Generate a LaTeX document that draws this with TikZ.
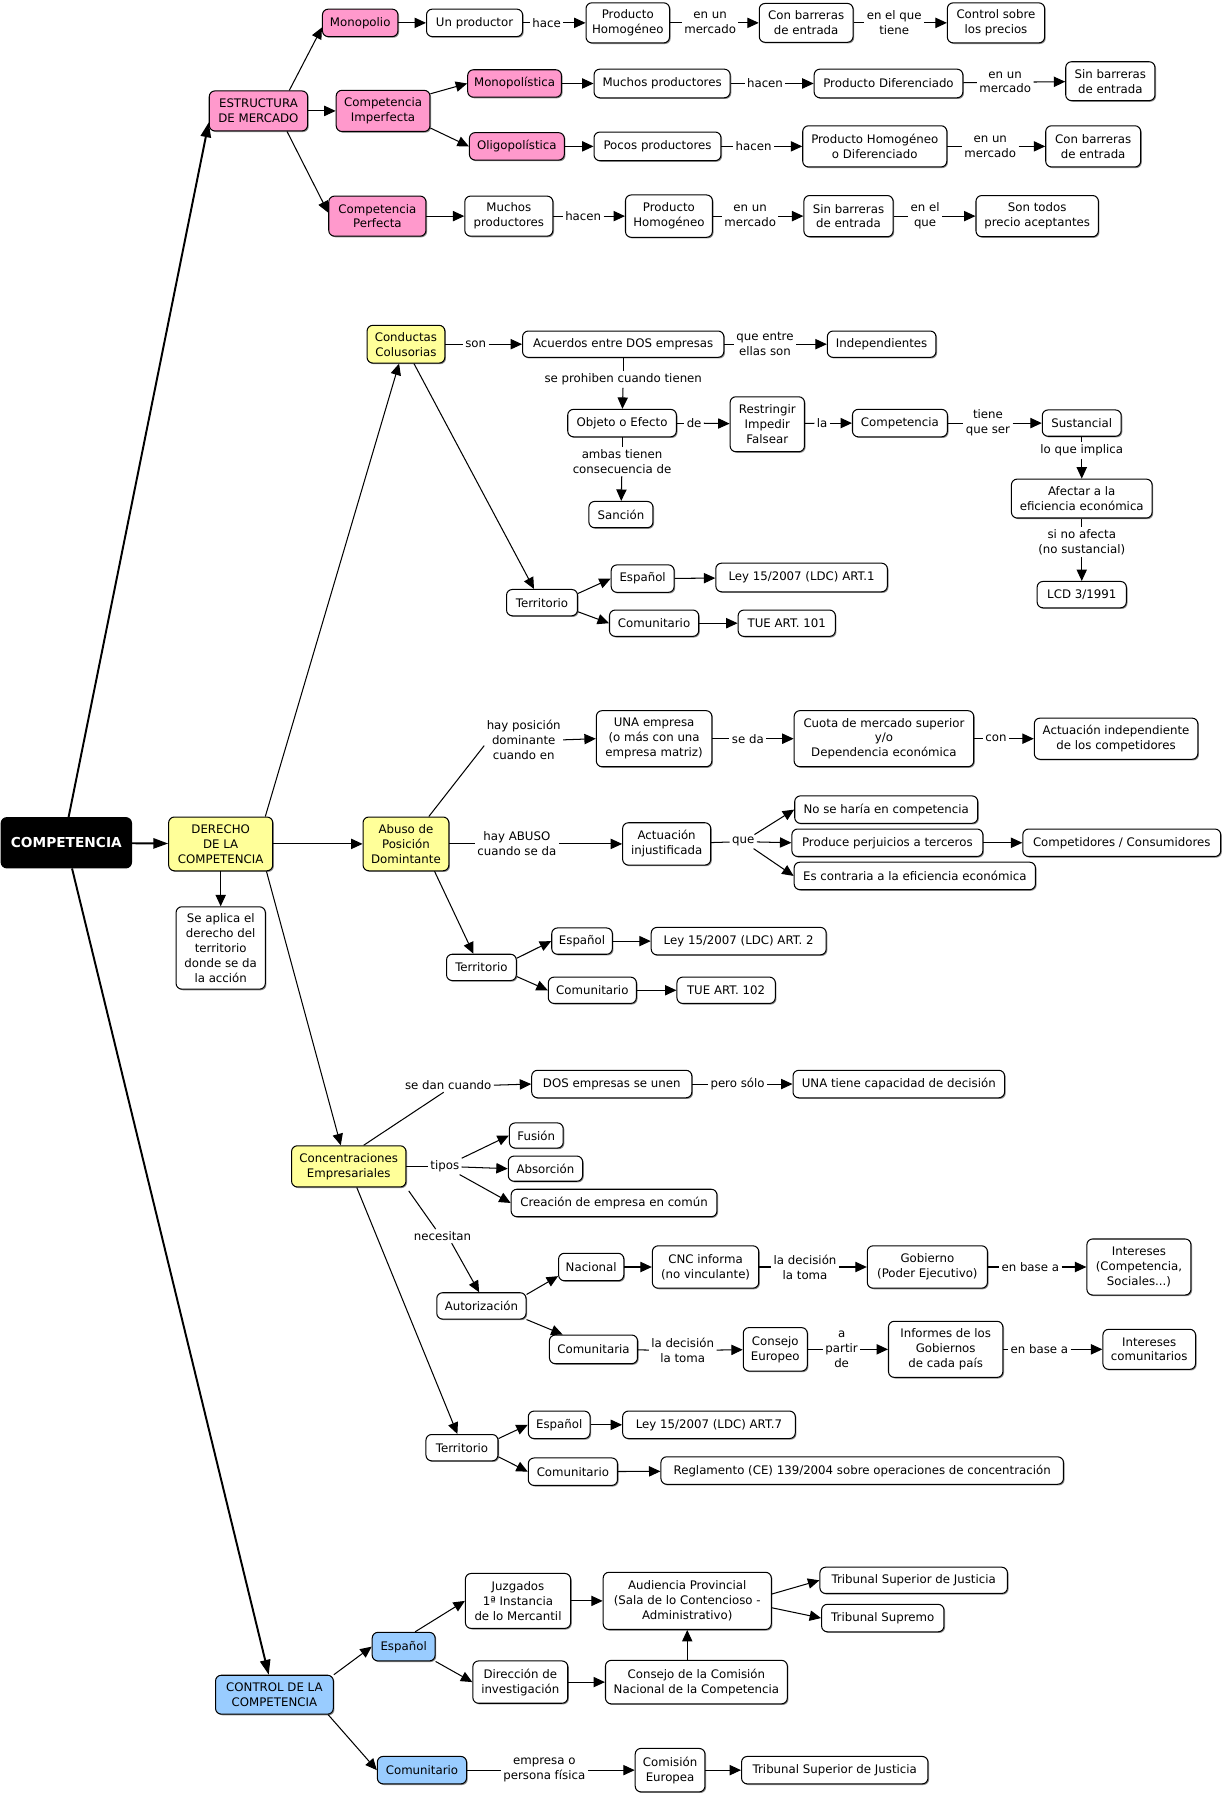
\documentclass[tikz,border=0pt]{standalone}
\usepackage{fontspec}
\setmainfont{DejaVu Sans}
\usetikzlibrary{arrows.meta,shadows}
\definecolor{pinkc}{RGB}{255,153,204}
\definecolor{yelc}{RGB}{255,255,153}
\definecolor{bluec}{RGB}{153,204,255}
\newcommand\fs{\fontsize{10.3}{13}\selectfont}
\begin{document}
\begin{tikzpicture}[x=1pt,y=-1pt,
 box/.style={draw, rounded corners=5pt, fill=white, align=center, inner sep=1pt, line width=0.9pt, font=\fs,
   general shadow={fill=black!45, shadow xshift=1pt, shadow yshift=-1pt}},
 pk/.style={box, fill=pinkc}, ye/.style={box, fill=yelc}, bl/.style={box, fill=bluec},
 lbl/.style={align=center, inner sep=2pt, font=\fs},
 ln/.style={line width=0.9pt},
 arr/.style={line width=0.9pt, -{Triangle[length=10pt,width=9pt]}},
 big/.style={line width=1.7pt, -{Triangle[length=13pt,width=9pt]}},
 sz/.style 2 args={minimum width=#1pt, minimum height=#2pt}]
\fill[white] (0,0) rectangle (1071,1568);
\useasboundingbox (0,0) rectangle (1071,1568);

% ---------------- ESTRUCTURA DE MERCADO
\node[pk,sz={86}{35}] (estr) at (226,97) {ESTRUCTURA\\DE MERCADO};
\node[pk,sz={66}{24}] (mono) at (315,20) {Monopolio};
\node[box,sz={84}{24}] (unprod) at (415,20) {Un productor};
\node[lbl] (lhace) at (478,20) {hace};
\node[box,sz={73}{35}] (prodhom1) at (549,20) {Producto\\Homogéneo};
\node[lbl] (lenun1) at (621,20) {en un\\mercado};
\node[box,sz={82}{34}] (conbarr1) at (705,20) {Con barreras\\de entrada};
\node[lbl] (lenelque1) at (782,20) {en el que\\tiene};
\node[box,sz={85}{35}] (controlp) at (871,20) {Control sobre\\los precios};

\node[pk,sz={82}{36}] (compimp) at (335,97) {Competencia\\Imperfecta};
\node[pk,sz={82}{24}] (monopol) at (450,73) {Monopolística};
\node[box,sz={119}{25}] (muchos1) at (579,73) {Muchos productores};
\node[lbl] (lhacen1) at (669,73) {hacen};
\node[box,sz={130}{25}] (proddif) at (777,73) {Producto Diferenciado};
\node[lbl] (lenun2) at (879,72) {en un\\mercado};
\node[box,sz={78}{34}] (sinbarr1) at (971,71) {Sin barreras\\de entrada};

\node[pk,sz={83}{24}] (oligop) at (452,128) {Oligopolística};
\node[box,sz={111}{25}] (pocos) at (575,128) {Pocos productores};
\node[lbl] (lhacen2) at (659,128) {hacen};
\node[box,sz={126}{36}] (prodhomdif) at (765,128) {Producto Homogéneo\\o Diferenciado};
\node[lbl] (lenun3) at (866,128) {en un\\mercado};
\node[box,sz={83}{36}] (conbarr2) at (956,128) {Con barreras\\de entrada};

\node[pk,sz={85}{35}] (compperf) at (330,189) {Competencia\\Perfecta};
\node[box,sz={77}{35}] (muchos2) at (445,189) {Muchos\\productores};
\node[lbl] (lhacen3) at (510,189) {hacen};
\node[box,sz={76}{37}] (prodhom2) at (585,189) {Producto\\Homogéneo};
\node[lbl] (lenun4) at (656,189) {en un\\mercado};
\node[box,sz={78}{36}] (sinbarr2) at (742,189) {Sin barreras\\de entrada};
\node[lbl] (lenelque2) at (809,189) {en el\\que};
\node[box,sz={107}{36}] (sontodos) at (907,189) {Son todos\\precio aceptantes};

% ---------------- CONDUCTAS COLUSORIAS
\node[ye,sz={68}{33}] (conductas) at (355,301) {Conductas\\Colusorias};
\node[lbl] (lson) at (416,301) {son};
\node[box,sz={176}{23}] (acuerdos) at (545,301) {Acuerdos entre DOS empresas};
\node[lbl] (lqueentre) at (669,301) {que entre\\ellas son};
\node[box,sz={95}{23}] (indep) at (771,301) {Independientes};
\node[lbl] (lseproh) at (545,332) {se prohiben cuando tienen};
\node[box,sz={95}{24}] (objeto) at (544,370) {Objeto o Efecto};
\node[lbl] (lde) at (607,370) {de};
\node[box,sz={65}{48}] (restr) at (671,371) {Restringir\\Impedir\\Falsear};
\node[lbl] (lla) at (719,370) {la};
\node[box,sz={83}{24}] (compet) at (787,370) {Competencia};
\node[lbl] (ltiene) at (864,370) {tiene\\que ser};
\node[box,sz={69}{23}] (sust) at (946,370) {Sustancial};
\node[lbl] (lloque) at (946,394) {lo que implica};
\node[box,sz={123}{34}] (afectar) at (946,436) {Afectar a la\\eficiencia económica};
\node[lbl] (lsino) at (946,474) {si no afecta\\(no sustancial)};
\node[box,sz={78}{23}] (lcd) at (946,520) {LCD 3/1991};
\node[lbl] (lambas) at (544,404) {ambas tienen\\consecuencia de};
\node[box,sz={56}{23}] (sancion) at (543,450) {Sanción};
\node[box,sz={62}{23}] (terr1) at (474,527) {Territorio};
\node[box,sz={55}{24}] (esp1) at (562,506) {Español};
\node[box,sz={150}{25}] (ley1) at (701,505) {Ley 15/2007 (LDC) ART.1};
\node[box,sz={78}{23}] (comu1) at (572,545) {Comunitario};
\node[box,sz={85}{23}] (tue101) at (688,545) {TUE ART. 101};

% ---------------- CENTRE
\node[draw, rounded corners=5pt, fill=black, text=white, line width=0.9pt, sz={114}{44},
      font=\bfseries\fontsize{12}{14}\selectfont] (comp) at (58,737) {COMPETENCIA};
\node[ye,sz={91}{47}] (derecho) at (193,738) {DERECHO\\DE LA\\COMPETENCIA};
\node[box,sz={78}{72}] (sapl) at (193,829) {Se aplica el\\derecho del\\territorio\\donde se da\\la acción};

% ---------------- ABUSO
\node[ye,sz={75}{47}] (abuso) at (355,738) {Abuso de\\Posición\\Domintante};
\node[lbl] (lhaypos) at (458,647) {hay posición\\dominante\\cuando en};
\node[box,sz={101}{49}] (unaemp) at (572,646) {UNA empresa\\(o más con una\\empresa matriz)};
\node[lbl] (lseda) at (654,646) {se da};
\node[box,sz={157}{49}] (cuota) at (773,646) {Cuota de mercado superior\\y/o\\Dependencia económica};
\node[lbl] (lcon) at (871,646) {con};
\node[box,sz={143}{36}] (actind) at (976,646) {Actuación independiente\\de los competidores};
\node[lbl] (lhayab) at (452,738) {hay ABUSO\\cuando se da};
\node[box,sz={77}{37}] (actinj) at (583,738) {Actuación\\injustificada};
\node[lbl] (lque) at (650,736) {que};
\node[box,sz={160}{24}] (nosehar) at (775,708) {No se haría en competencia};
\node[box,sz={167}{24}] (produce) at (776,737) {Produce perjuicios a terceros};
\node[box,sz={173}{24}] (compcons) at (981,737) {Competidores / Consumidores};
\node[box,sz={211}{24}] (escontr) at (800,766) {Es contraria a la eficiencia económica};
\node[box,sz={61}{23}] (terr2) at (421,846) {Territorio};
\node[box,sz={53}{23}] (esp2) at (509,823) {Español};
\node[box,sz={153}{24}] (ley2) at (646,823) {Ley 15/2007 (LDC) ART. 2};
\node[box,sz={77}{23}] (comu2) at (518,866) {Comunitario};
\node[box,sz={86}{23}] (tue102) at (635,866) {TUE ART. 102};

% ---------------- CONCENTRACIONES
\node[ye,sz={100}{36}] (conc) at (305,1020) {Concentraciones\\Empresariales};
\node[lbl] (lsedan) at (392,949) {se dan cuando};
\node[box,sz={140}{24}] (dosemp) at (535,948) {DOS empresas se unen};
\node[lbl] (lpero) at (645,948) {pero sólo};
\node[box,sz={185}{24}] (unatiene) at (786,948) {UNA tiene capacidad de decisión};
\node[lbl] (ltipos) at (389,1020) {tipos};
\node[box,sz={47}{22}] (fusion) at (469,993) {Fusión};
\node[box,sz={65}{22}] (absorcion) at (477,1022) {Absorción};
\node[box,sz={180}{24}] (creacion) at (537,1052) {Creación de empresa en común};
\node[lbl] (lnec) at (387,1081) {necesitan};
\node[box,sz={78}{23}] (autoriz) at (421,1142) {Autorización};
\node[box,sz={57}{24}] (nacional) at (517,1108) {Nacional};
\node[box,sz={93}{37}] (cnc) at (617,1108) {CNC informa\\(no vinculante)};
\node[lbl] (lladec1) at (704,1108) {la decisión\\la toma};
\node[box,sz={105}{37}] (gobierno) at (811,1108) {Gobierno\\(Poder Ejecutivo)};
\node[lbl] (lenbase1) at (901,1108) {en base a};
\node[box,sz={91}{49}] (intereses) at (996,1108) {Intereses\\(Competencia,\\Sociales...)};
\node[box,sz={77}{25}] (comunitaria) at (519,1180) {Comunitaria};
\node[lbl] (lladec2) at (597,1181) {la decisión\\la toma};
\node[box,sz={56}{38}] (consejo) at (678,1180) {Consejo\\Europeo};
\node[lbl] (lapartir) at (736,1180) {a\\partir\\de};
\node[box,sz={100}{49}] (informes) at (827,1180) {Informes de los\\Gobiernos\\de cada país};
\node[lbl] (lenbase2) at (909,1180) {en base a};
\node[box,sz={81}{35}] (intcom) at (1005,1180) {Intereses\\comunitarios};
\node[box,sz={63}{23}] (terr3) at (404,1266) {Territorio};
\node[box,sz={54}{24}] (esp3) at (489,1246) {Español};
\node[box,sz={151}{24}] (ley7) at (620,1246) {Ley 15/2007 (LDC) ART.7};
\node[box,sz={78}{24}] (comu3) at (501,1287) {Comunitario};
\node[box,sz={352}{24}] (regl) at (754,1286) {Reglamento (CE) 139/2004 sobre operaciones de concentración};

% ---------------- CONTROL
\node[bl,sz={103}{34}] (controlc) at (240,1482) {CONTROL DE LA\\COMPETENCIA};
\node[bl,sz={55}{25}] (espc) at (353,1440) {Español};
\node[bl,sz={78}{24}] (comc) at (369,1548) {Comunitario};
\node[box,sz={92}{48}] (juzg) at (453,1400) {Juzgados\\1ª Instancia\\de lo Mercantil};
\node[box,sz={147}{50}] (aud) at (601,1400) {Audiencia Provincial\\(Sala de lo Contencioso -\\Administrativo)};
\node[box,sz={164}{23}] (tsj1) at (799,1382) {Tribunal Superior de Justicia};
\node[box,sz={107}{24}] (ts) at (772,1415) {Tribunal Supremo};
\node[box,sz={83}{37}] (direc) at (455,1471) {Dirección de\\investigación};
\node[box,sz={159}{38}] (consejoc) at (609,1471) {Consejo de la Comisión\\Nacional de la Competencia};
\node[lbl] (lempresa) at (476,1548) {empresa o\\persona física};
\node[box,sz={61}{38}] (comeur) at (586,1548) {Comisión\\Europea};
\node[box,sz={163}{24}] (tsj2) at (730,1548) {Tribunal Superior de Justicia};

% ================= CONNECTORS
% main
\draw[big] ([xshift=2pt]comp.north) -- ([yshift=-10pt]estr.west);
\draw[big] (comp) -- (derecho);
\draw[big] ([xshift=5pt]comp.south) -- ([xshift=-5pt]controlc.north);
% estructura
\draw[arr] ([xshift=27pt]estr.north) -- ([yshift=-4pt]mono.west);
\draw[arr] (estr) -- (compimp);
\draw[arr] ([xshift=25pt]estr.south) -- ([yshift=3pt]compperf.west);
\draw[arr] (mono) -- (unprod);
\draw[ln] (unprod) -- (lhace); \draw[arr] (lhace) -- (prodhom1);
\draw[ln] (prodhom1) -- (lenun1); \draw[arr] (lenun1) -- (conbarr1);
\draw[ln] (conbarr1) -- (lenelque1); \draw[arr] (lenelque1) -- (controlp);
\draw[arr] ([yshift=15pt]compimp.east) -- (monopol.west);
\draw[arr] ([yshift=-15pt]compimp.east) -- (oligop.west);
\draw[arr] (monopol) -- (muchos1);
\draw[ln] (muchos1) -- (lhacen1); \draw[arr] (lhacen1) -- (proddif);
\draw[ln] (proddif) -- (lenun2); \draw[arr] (lenun2) -- (sinbarr1);
\draw[arr] (oligop) -- (pocos);
\draw[ln] (pocos) -- (lhacen2); \draw[arr] (lhacen2) -- (prodhomdif);
\draw[ln] (prodhomdif) -- (lenun3); \draw[arr] (lenun3) -- (conbarr2);
\draw[arr] (compperf) -- (muchos2);
\draw[ln] (muchos2) -- (lhacen3); \draw[arr] (lhacen3) -- (prodhom2);
\draw[ln] (prodhom2) -- (lenun4); \draw[arr] (lenun4) -- (sinbarr2);
\draw[ln] (sinbarr2) -- (lenelque2); \draw[arr] (lenelque2) -- (sontodos);
% derecho
\draw[arr] ([xshift=39pt]derecho.north) -- ([xshift=-6pt]conductas.south);
\draw[arr] (derecho) -- (abuso);
\draw[arr] ([xshift=40pt]derecho.south) -- ([xshift=-7pt]conc.north);
\draw[arr] (derecho) -- (sapl);
% conductas
\draw[ln] (conductas) -- (lson); \draw[arr] (lson) -- (acuerdos);
\draw[ln] (acuerdos) -- (lqueentre); \draw[arr] (lqueentre) -- (indep);
\draw[ln] (acuerdos) -- (lseproh); \draw[arr] (lseproh) -- (objeto);
\draw[ln] (objeto) -- (lde); \draw[arr] (lde) -- (restr);
\draw[ln] (restr) -- (lla); \draw[arr] (lla) -- (compet);
\draw[ln] (compet) -- (ltiene); \draw[arr] (ltiene) -- (sust);
\draw[ln] (sust) -- (lloque); \draw[arr] (lloque) -- (afectar);
\draw[ln] (afectar) -- (lsino); \draw[arr] (lsino) -- (lcd);
\draw[ln] (objeto) -- (lambas); \draw[arr] (lambas) -- (sancion);
\draw[arr] ([xshift=7pt]conductas.south) -- ([xshift=-7pt]terr1.north);
\draw[arr] ([yshift=8pt]terr1.east) -- (esp1.west);
\draw[arr] ([yshift=-8pt]terr1.east) -- (comu1.west);
\draw[arr] (esp1) -- (ley1);
\draw[arr] (comu1) -- (tue101);
% abuso
\draw[ln] ([xshift=20pt]abuso.north) -- ([yshift=-5pt]lhaypos.west);
\draw[arr] (lhaypos.east) -- (unaemp.west);
\draw[ln] (unaemp) -- (lseda); \draw[arr] (lseda) -- (cuota);
\draw[ln] (cuota) -- (lcon); \draw[arr] (lcon) -- (actind);
\draw[ln] (abuso) -- (lhayab); \draw[arr] (lhayab) -- (actinj);
\draw[ln] (actinj) -- (lque);
\draw[arr] (lque) -- (nosehar.west);
\draw[arr] (lque) -- (produce.west);
\draw[arr] (lque) -- (escontr.west);
\draw[arr] (produce) -- (compcons);
\draw[arr] ([xshift=25pt]abuso.south) -- ([xshift=-7pt]terr2.north);
\draw[arr] ([yshift=8pt]terr2.east) -- (esp2.west);
\draw[arr] ([yshift=-8pt]terr2.east) -- (comu2.west);
\draw[arr] (esp2) -- (ley2);
\draw[arr] (comu2) -- (tue102);
% concentraciones
\draw[ln] ([xshift=13pt]conc.north) -- ([xshift=-4pt]lsedan.south);
\draw[arr] (lsedan.east) -- (dosemp.west);
\draw[ln] (dosemp) -- (lpero); \draw[arr] (lpero) -- (unatiene);
\draw[ln] (conc) -- (ltipos);
\draw[arr] (ltipos) -- (fusion.west);
\draw[arr] (ltipos) -- (absorcion.west);
\draw[arr] (ltipos) -- (creacion.west);
\draw[ln] ([xshift=2pt,yshift=-3pt]conc.south east) -- ([xshift=-6pt]lnec.north);
\draw[arr] ([xshift=8pt]lnec.south) -- ([xshift=-2pt]autoriz.north);
\draw[arr] ([yshift=-2pt]autoriz.north east) -- ([yshift=-8pt]nacional.west);
\draw[arr] (autoriz.south east) -- ([xshift=12pt]comunitaria.north west);
\draw[arr] (nacional) -- (cnc);
\draw[ln] (cnc) -- (lladec1); \draw[arr] (lladec1) -- (gobierno);
\draw[ln] (gobierno) -- (lenbase1); \draw[arr] (lenbase1) -- (intereses);
\draw[ln] (comunitaria) -- (lladec2); \draw[arr] (lladec2) -- (consejo);
\draw[ln] (consejo) -- (lapartir); \draw[arr] (lapartir) -- (informes);
\draw[ln] (informes) -- (lenbase2); \draw[arr] (lenbase2) -- (intcom);
\draw[arr] ([xshift=7pt]conc.south) -- ([xshift=-4pt]terr3.north);
\draw[arr] ([yshift=8pt]terr3.east) -- (esp3.west);
\draw[arr] ([yshift=-8pt]terr3.east) -- (comu3.west);
\draw[arr] (esp3) -- (ley7);
\draw[arr] (comu3) -- (regl);
% control
\draw[arr] (controlc.north east) -- (espc.west);
\draw[arr] ([xshift=-5pt]controlc.south east) -- (comc.west);
\draw[arr] ([xshift=10pt]espc.north) -- (juzg.west);
\draw[arr] (espc.south east) -- (direc.west);
\draw[arr] (juzg) -- (aud);
\draw[arr] ([yshift=6pt]aud.east) -- (tsj1.west);
\draw[arr] ([yshift=-6pt]aud.east) -- (ts.west);
\draw[arr] (direc) -- (consejoc);
\draw[arr] (consejoc.north -| aud.south) -- (aud.south);
\draw[ln] (comc) -- (lempresa); \draw[arr] (lempresa) -- (comeur);
\draw[arr] (comeur) -- (tsj2);
\end{tikzpicture}
\end{document}
